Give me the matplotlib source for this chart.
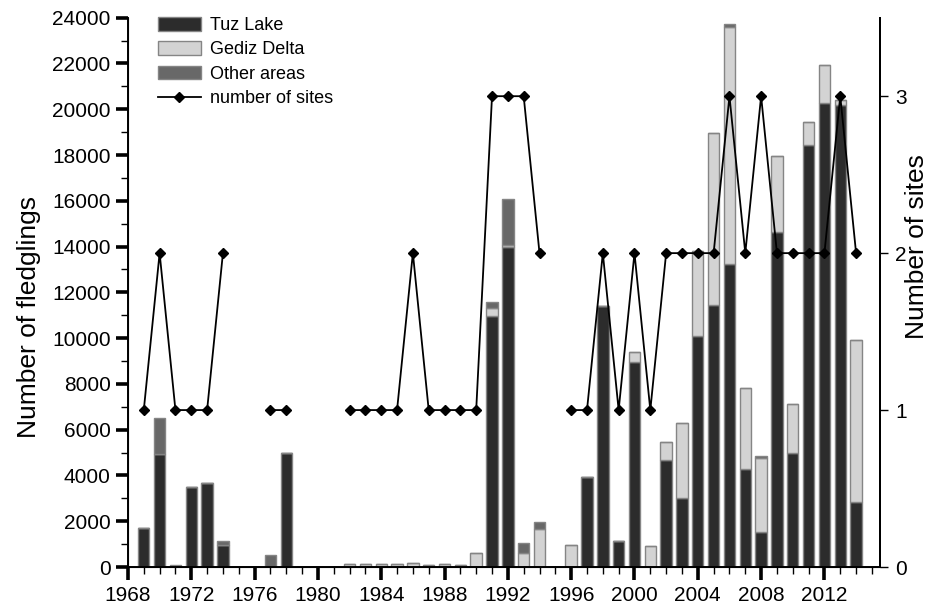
import numpy as np
import matplotlib
matplotlib.use("Agg")
import matplotlib.pyplot as plt
from matplotlib.ticker import MultipleLocator

nan = np.nan

years = list(range(1968, 2015))

# fledglings per area
tuz = [0, 1720, 4950, 0, 3490, 3690, 980, 0, 0, 0,
       4975, 0, 0, 0, 0, 0, 0, 0, 0, 0,
       0, 0, 0, 10950, 14000, 0, 0, 0, 0, 3950,
       11420, 1120, 8970, 0, 4670, 3000, 10110, 11440, 13250, 4280,
       1530, 14630, 5000, 18440, 20270, 20200, 2820]
gediz = [0, 0, 0, 0, 0, 0, 0, 0, 0, 0,
         0, 0, 0, 0, 120, 145, 120, 120, 160, 90,
         120, 90, 600, 380, 90, 630, 1660, 0, 940, 0,
         0, 0, 440, 920, 800, 3300, 3680, 7510, 10330, 3560,
         3230, 3310, 2130, 990, 1660, 200, 7080]
other = [0, 0, 1550, 90, 0, 0, 170, 0, 0, 525,
         0, 0, 0, 0, 0, 0, 0, 0, 0, 0,
         0, 0, 0, 270, 1970, 440, 310, 0, 0, 0,
         0, 0, 0, 0, 0, 0, 0, 0, 150, 0,
         100, 0, 0, 0, 0, 0, 0]

sites = [nan, 1, 2, 1, 1, 1, 2, nan, nan, 1,
         1, nan, nan, nan, 1, 1, 1, 1, 2, 1,
         1, 1, 1, 3, 3, 3, 2, nan, 1, 1,
         2, 1, 2, 1, 2, 2, 2, 2, 3, 2,
         3, 2, 2, 2, 2, 3, 2]

plt.rcParams['font.family'] = ['Liberation Sans', 'DejaVu Sans']

tuz = np.array(tuz)
gediz = np.array(gediz)
other = np.array(other)

fig = plt.figure(figsize=(9.34, 6.11), dpi=100)
ax = fig.add_axes([0.137, 0.072, 0.805, 0.899])

edge = '#858585'
w = 0.72
ax.bar(years, tuz, width=w, color='#2c2c2c', edgecolor=edge, linewidth=1, label='Tuz Lake')
ax.bar(years, gediz, width=w, bottom=tuz, color='#d3d3d3', edgecolor=edge, linewidth=1, label='Gediz Delta')
ax.bar(years, other, width=w, bottom=tuz + gediz, color='#686868', edgecolor=edge, linewidth=1, label='Other areas')

ax.set_xlim(1968, 2015.5)
ax.set_ylim(0, 24000)
ax.set_ylabel('Number of fledglings', fontsize=19, labelpad=8)
ax.yaxis.label.set_y(0.455)

ax.xaxis.set_major_locator(MultipleLocator(4))
ax.xaxis.set_minor_locator(MultipleLocator(1))
ax.yaxis.set_major_locator(MultipleLocator(2000))
ax.yaxis.set_minor_locator(MultipleLocator(1000))
ax.tick_params(axis='both', which='major', labelsize=15, direction='out',
               length=9, width=2.6)
ax.tick_params(axis='both', which='minor', direction='out', length=5, width=1)
ax.tick_params(axis='x', which='major', pad=5)
ax.spines['top'].set_visible(False)
for s in ['left', 'bottom', 'right']:
    ax.spines[s].set_linewidth(1.4)

ax2 = ax.twinx()
ax2.plot(years, sites, color='black', linewidth=1.3, marker='D', markersize=5.5,
         label='number of sites')
ax2.set_ylim(0, 3.5)
ax2.set_yticks([0, 1, 2, 3])
ax2.tick_params(axis='y', labelsize=15, direction='out', length=6, width=1, pad=5)
ax2.set_ylabel('Number of sites', fontsize=19, labelpad=-1)
ax2.yaxis.label.set_y(0.583)
ax2.spines['top'].set_visible(False)
ax2.spines['right'].set_linewidth(1.4)

h1, l1 = ax.get_legend_handles_labels()
h2, l2 = ax2.get_legend_handles_labels()
ax2.legend(h1 + h2, l1 + l2, loc='upper left', bbox_to_anchor=(0.03, 1.015),
           frameon=False, fontsize=13, handlelength=2.4, handleheight=0.8,
           handletextpad=0.5, labelspacing=0.4, borderaxespad=0)

fig.savefig('out.png', dpi=100)
